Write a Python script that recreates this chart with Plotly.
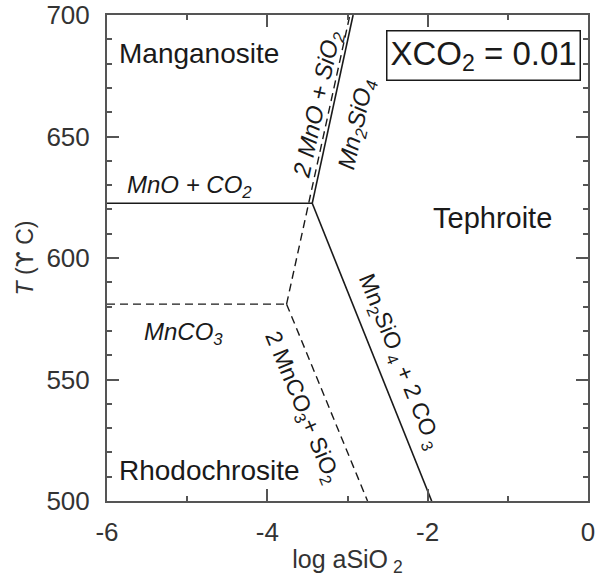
import plotly.graph_objects as go

# ---- data (log aSiO2, T in °C) ----
mno_co2_x = [-6.0, -3.44]
mno_co2_t = [622.5, 622.5]
mn2sio4_x = [-3.44, -2.93]
mn2sio4_t = [622.5, 700.0]
mn2sio4_co2_x = [-3.44, -1.95]
mn2sio4_co2_t = [622.5, 500.0]
mnco3_x = [-6.0, -3.76]
mnco3_t = [581.0, 581.0]
meta_upper_x = [-3.76, -2.97]
meta_upper_t = [581.0, 700.0]
meta_lower_x = [-3.76, -2.75]
meta_lower_t = [581.0, 500.0]

x_ticks = [-6, -4, -2, 0]
x_ticklabels = ["-6", "-4", "-2", "0"]
y_ticks = [500, 550, 600, 650, 700]

FONT = "Liberation Sans, Arial, Helvetica, sans-serif"
LINE = "#1a1a1a"
AX = "#555555"
TS = "\u2009"  # thin space

fig = go.Figure()

solid = dict(color=LINE, width=1.6)
dashed = dict(color=LINE, width=1.4, dash="8px,5px")

for xs, ts, ln in [
    (mno_co2_x, mno_co2_t, solid),
    (mn2sio4_x, mn2sio4_t, solid),
    (mn2sio4_co2_x, mn2sio4_co2_t, solid),
    (mnco3_x, mnco3_t, dashed),
    (meta_upper_x, meta_upper_t, dashed),
    (meta_lower_x, meta_lower_t, dashed),
]:
    fig.add_trace(go.Scatter(x=xs, y=ts, mode="lines", line=ln,
                             showlegend=False, hoverinfo="skip"))

ann = []
def label(text, x, y, size, angle=0, xanchor="center", italic=False):
    t = f"<i>{text}</i>" if italic else text
    ann.append(dict(x=x, y=y, xref="x", yref="y", text=t, showarrow=False,
                    textangle=angle, xanchor=xanchor, yanchor="middle",
                    font=dict(family=FONT, size=size, color="#1a1a1a")))

label("Manganosite", -5.87, 684.0, 28, xanchor="left")
label("Tephroite", -1.19, 616.5, 29)
label("Rhodochrosite", -5.88, 512.5, 28, xanchor="left")
label("MnO + CO<sub>2</sub>", -5.78, 629.5, 24, xanchor="left", italic=True)
label("MnCO<sub>3</sub>", -5.56, 569.0, 24, xanchor="left", italic=True)
label("2 MnO + SiO<sub>2</sub>", -3.36, 663.0, 24, angle=-77.7, italic=True)
label("Mn<sub>2</sub>SiO<sub>4</sub>", -2.88, 655.0, 24, angle=-77.7, italic=True)
label(f"Mn<sub>2</sub>SiO{TS}<sub>4</sub> + 2 CO{TS}<sub>3</sub>", -2.35, 557.6, 23, angle=68.1)
label("2 MnCO<sub>3</sub>+ SiO<sub>2</sub>", -3.57, 538.5, 23, angle=67.5)

ann.append(dict(x=-1.30, y=683.5, xref="x", yref="y",
                text="XCO<sub>2</sub> = 0.01", showarrow=False,
                xanchor="center", yanchor="middle",
                bordercolor="#1a1a1a", borderwidth=1.5, borderpad=3,
                font=dict(family=FONT, size=33, color="#1a1a1a")))

fig.update_layout(
    width=597, height=579,
    margin=dict(l=107, r=9, t=15, b=78),
    paper_bgcolor="white", plot_bgcolor="white",
    font=dict(family=FONT, color="#333333"),
    annotations=ann,
    showlegend=False,
)

fig.update_xaxes(
    range=[-6, 0], tickmode="array", tickvals=x_ticks, ticktext=x_ticklabels,
    ticks="inside", ticklen=12, tickwidth=1.5, tickcolor=AX,
    minor=dict(dtick=1, ticks="inside", ticklen=5, tickwidth=1.5, tickcolor=AX),
    showline=True, linecolor=AX, linewidth=2, mirror="ticks",
    showgrid=False, zeroline=False, automargin=False,
    tickfont=dict(family=FONT, size=26, color="#333333"),
    ticklabelstandoff=7,
    title=dict(text=f"log aSiO{TS}<sub>2</sub>", font=dict(family=FONT, size=25, color="#333333"),
               standoff=4),
)
fig.update_yaxes(
    range=[500, 700], tickmode="array", tickvals=y_ticks,
    ticks="inside", ticklen=12, tickwidth=1.5, tickcolor=AX,
    minor=dict(dtick=10, ticks="inside", ticklen=5, tickwidth=1.5, tickcolor=AX),
    showline=True, linecolor=AX, linewidth=2, mirror="ticks",
    showgrid=False, zeroline=False, automargin=False,
    tickfont=dict(family=FONT, size=26, color="#333333"),
    ticklabelstandoff=10,
    title=dict(text="<i>T</i> (<span style=\"font-family:'DejaVu Sans'\">ϒ</span> C)",
               font=dict(family=FONT, size=23, color="#333333"),
               standoff=6),
)

fig.write_html("out.html", config={"displayModeBar": False},
               post_script="document.body.style.margin='0';")
